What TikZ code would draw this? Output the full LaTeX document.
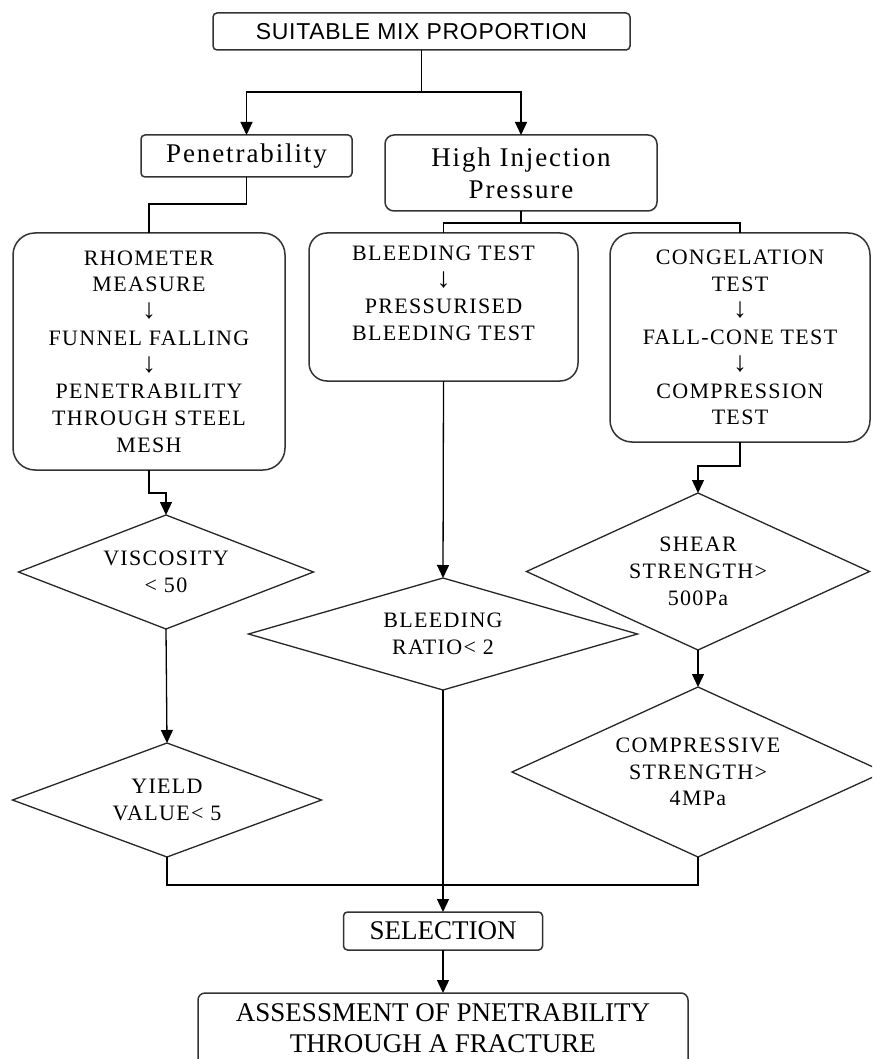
\documentclass[tikz,border=0pt]{standalone}
\usepackage{fontspec}
\setmainfont{Liberation Serif}
\newfontfamily\capsfont[LetterSpace=6]{Liberation Serif}
\newfontfamily\mixfont[LetterSpace=7]{Liberation Serif}
\newfontfamily\plainfont{Liberation Serif}
\newfontfamily\topfont[LetterSpace=3]{Liberation Sans}
\newfontfamily\arrowfont{Liberation Serif}
\newcommand\downarr{{\arrowfont\fontsize{28}{26.7}\selectfont ↓}}
\usetikzlibrary{arrows.meta}
\begin{document}
\begin{tikzpicture}[x=1pt,y=-1pt,
  every node/.style={inner sep=0pt, outer sep=0pt},
  line/.style={line width=1.3pt, draw=black},
  arr/.style={line, -{Triangle[length=13pt,width=12pt]}},
  sq/.style={draw=black!80, line width=1.5pt, rounded corners=4pt, align=center},
  rbox/.style={draw=black!80, line width=1.5pt, rounded corners=22pt, align=center},
  dia/.style={rectangle, align=center},
  small/.style={font=\capsfont\fontsize{22}{26.7}\selectfont},
  big/.style={font=\plainfont\fontsize{27}{32}\selectfont},
  mixed/.style={font=\mixfont\fontsize{27}{32}\selectfont},
  diaedge/.style={line width=1.3pt, draw=black!85}
]
\useasboundingbox (0,0) rectangle (872,1059);
\fill[white] (0,0) rectangle (872,1059);
\clip (0,0) rectangle (872,1059);

% boxes
\node[sq, minimum width=417, minimum height=37, font=\topfont\fontsize{23}{27}\selectfont] (top) at (421.5,31.5) {SUITABLE MIX PROPORTION};
\node[sq, mixed, minimum width=211, minimum height=42] (pen) at (246.5,156) {Penetrability};
\node[sq, mixed, rounded corners=9pt, minimum width=272, minimum height=76] (hi) at (521,173) {High Injection\\Pressure};
\node[rbox, small, minimum width=272, minimum height=237] (rho) at (149,351.5) {RHOMETER\\MEASURE\\\downarr\\FUNNEL FALLING\\\downarr\\PENETRABILITY\\THROUGH STEEL\\MESH};
\node[rbox, rounded corners=18pt, minimum width=269, minimum height=148] (bleed) at (443.5,307) {};
\node[small, align=center, anchor=north] (bleedtxt) at (443.5,246) {BLEEDING TEST\\\downarr\\PRESSURISED\\BLEEDING TEST};
\node[rbox, small, minimum width=260, minimum height=209] (cong) at (740,337.5) {CONGELATION\\TEST\\\downarr\\FALL-CONE TEST\\\downarr\\COMPRESSION\\TEST};

% decisions
\node[dia, small, minimum width=295, minimum height=114] (visc) at (166,572) {VISCOSITY\\< 50};
\node[dia, small, minimum width=309, minimum height=114] (yield) at (167,800) {YIELD\\VALUE< 5};
\node[dia, small, minimum width=389, minimum height=112] (bratio) at (443,634) {BLEEDING\\RATIO< 2};
\node[dia, small, minimum width=343, minimum height=157] (shear) at (698,571.5) {SHEAR\\STRENGTH>\\500Pa};
\node[dia, small, minimum width=372, minimum height=170] (comp) at (698,772) {COMPRESSIVE\\STRENGTH>\\4MPa};
\foreach \d in {visc,yield,bratio,shear,comp}
  \draw[diaedge] (\d.north) -- (\d.east) -- (\d.south) -- (\d.west) -- cycle;

\node[sq, big, minimum width=199, minimum height=38] (sel) at (443,931) {SELECTION};
\node[sq, rounded corners=7pt, minimum width=490, minimum height=77] (ass) at (443,1031.5) {};
\node[big, align=center, font=\plainfont\fontsize{27}{31}\selectfont] (asstxt) at (443,1028.5) {ASSESSMENT OF PNETRABILITY\\THROUGH A FRACTURE};

% connectors
\draw[line] (top.south) -- ++(0,42) coordinate (j1);
\draw[arr] (j1) -| (pen.north);
\draw[arr] (j1) -| (hi.north);
\draw[line] (pen.south) -- ++(0,27) -| (rho.north);
\draw[line] (hi.south) -- ++(0,12) coordinate (j2);
\draw[line] (j2) -| (bleed.north);
\draw[line] (j2) -| (cong.north);
\draw[arr] (rho.south) -- ++(0,23) -| (visc.north);
\draw[arr] (bleed.south) -- (bratio.north);
\draw[arr] (cong.south) -- ++(0,24) -| (shear.north);
\draw[arr] (visc.south) -- (yield.north);
\draw[arr] (shear.south) -- (comp.north);
\draw[line] (yield.south) -- ++(0,28) -| (comp.south);
\draw[arr] (bratio.south) -- (sel.north);
\draw[arr] (sel.south) -- (ass.north);
\end{tikzpicture}
\end{document}
